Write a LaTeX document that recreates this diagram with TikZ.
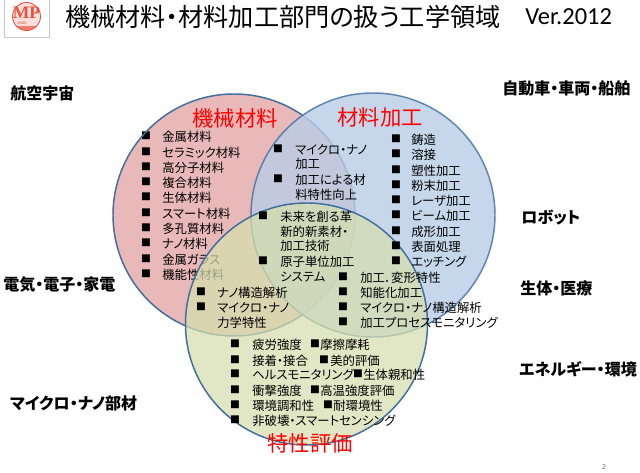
\documentclass[tikz,border=0pt]{standalone}
\usepackage{fontspec}
\setmainfont{Noto Sans CJK JP}[RawFeature=+palt]
\newfontfamily\latin{Carlito}
\definecolor{ringc}{HTML}{3F6E9F}
\definecolor{redf}{HTML}{E8B9B8}
\definecolor{bluef}{HTML}{B9CDE6}
\definecolor{greenf}{HTML}{D6DFAE}
\definecolor{logor}{HTML}{E8503A}
\tikzset{
  x=0.025cm,y=-0.025cm,
  ring/.style={draw=ringc,line width=1.05pt},
  itemtext/.style={anchor=west,inner sep=0pt,yshift=-0.4pt,font=\fontsize{8.8pt}{10pt}\selectfont,text=black},
  bul/.style={anchor=center,inner sep=0pt,font=\fontsize{7pt}{8pt}\selectfont,text=black},
  field/.style={anchor=west,inner sep=0pt,font=\fontsize{11.4pt}{13pt}\bfseries\selectfont},
  redtitle/.style={anchor=center,inner sep=0pt,text=red,font=\fontsize{15.2pt}{18pt}\selectfont},
}
\newcommand{\itm}[5]{%
  \node[bul] (b#1) at (#2,#4) {■};
  \node[itemtext] (t#1) at (#3,#4) {#5};}
\newcommand{\lin}[4]{\node[itemtext] (l#1) at (#2,#3) {#4};}
\begin{document}
\begin{tikzpicture}
\useasboundingbox (0,0) rectangle (640,473);
\fill[white] (0,0) rectangle (640,473);
% logo
\node[draw=black!22,line width=0.4pt,minimum width=32pt,minimum height=27pt,inner sep=0pt,anchor=north west] (logobox) at (4,-1) {};
\fill[logor!18] (26.5,16.5) circle (14);
\begin{scope}
\clip (26.5,16.5) circle (14);
\fill[logor!75] (10,26) rectangle (44,32);
\end{scope}
\draw[logor,line width=0.6pt] (26.5,16.5) circle (14);
\node[inner sep=0pt,text=logor,font=\fontsize{12.5pt}{13pt}\bfseries\selectfont] (logot) at (26.5,12.5) {\fontspec{Liberation Serif}MP};
\node[inner sep=0pt,text=logor,font=\fontsize{2.6pt}{3pt}\selectfont] (logos) at (22,23.6) {\fontspec{Liberation Sans}JSME};
% title
\node[anchor=west,inner sep=0pt,font=\fontsize{17.9pt}{21pt}\selectfont] (title) at (65,17) {機械材料・材料加工部門の扱う工学領域};
\node[anchor=west,inner sep=0pt,font=\fontsize{17.4pt}{20pt}\selectfont] (ver) at (525,17) {\latin Ver.2012};
% red
\fill[redf] (234,215) circle (121);
\itm{a1}{146}{162}{136}{金属材料}
\itm{a2}{146}{162}{152}{セラミック材料}
\itm{a3}{146}{162}{167}{高分子材料}
\itm{a4}{146}{162}{182}{複合材料}
\itm{a5}{146}{162}{197}{生体材料}
\itm{a6}{146}{162}{213}{スマート材料}
\itm{a7}{146}{162}{228}{多孔質材料}
\itm{a8}{146}{162}{243}{ナノ材料}
\itm{a9}{146}{162}{259}{金属ガラス}
\itm{a10}{146}{162}{274}{機能性材料}
\draw[ring] (234,215) circle (121);
% blue
\fill[bluef,fill opacity=0.8] (373,215) circle (122);
\draw[ring,draw opacity=0.8] (373,215) circle (122);
% green
\fill[greenf,fill opacity=0.72] (306.5,324) circle (121);
\draw[ring] (306.5,324) circle (121);
% red title
\node[redtitle] (rt1) at (235,118) {機械材料};
\node[redtitle] (rt2) at (380,117) {材料加工};
\node[redtitle] (rt3) at (310,443) {特性評価};
% overlap red-blue
\itm{c1}{278}{295}{149}{マイクロ・ナノ}
\lin{c1b}{295}{163}{加工}
\itm{c2}{278}{295}{179}{加工による材}
\lin{c2b}{295}{194}{料特性向上}
% centre
\itm{d1}{263}{280}{216}{未来を創る革}
\lin{d1b}{280}{231}{新的新素材・}
\lin{d1c}{280}{245}{加工技術}
\itm{d2}{263}{280}{261}{原子単位加工}
\lin{d2b}{280}{276}{システム}
% blue list
\itm{e1}{396}{411}{139}{鋳造}
\itm{e2}{396}{411}{154}{溶接}
\itm{e3}{396}{411}{170}{塑性加工}
\itm{e4}{396}{411}{185}{粉末加工}
\itm{e5}{396}{411}{200}{レーザ加工}
\itm{e6}{396}{411}{215}{ビーム加工}
\itm{e7}{396}{411}{231}{成形加工}
\itm{e8}{396}{411}{246}{表面処理}
\itm{e9}{396}{411}{261}{エッチング}
% blue-green
\itm{f1}{343}{360}{277}{加工．変形特性}
\itm{f2}{343}{360}{292}{知能化加工}
\itm{f3}{343}{360}{307}{マイクロ・ナノ構造解析}
\itm{f4}{343}{360}{322}{加工プロセスモニタリング}
% red-green
\itm{g1}{201}{217}{292}{ナノ構造解析}
\itm{g2}{201}{217}{307}{マイクロ・ナノ}
\lin{g2b}{217}{322}{力学特性}
% green
\itm{h1}{235}{252}{344}{疲労強度}
\itm{h1x}{315}{320}{344}{摩擦摩耗}
\itm{h2}{235}{252}{360}{接着・接合}
\itm{h2x}{324}{330}{360}{美的評価}
\itm{h3}{235}{252}{374}{ヘルスモニタリング}
\itm{h3x}{358}{363}{374}{生体親和性}
\itm{h4}{235}{252}{390}{衝撃強度}
\itm{h4x}{315}{320}{390}{高温強度評価}
\itm{h5}{235}{252}{405}{環境調和性}
\itm{h5x}{328}{333}{405}{耐環境性}
\itm{h6}{235}{252}{420}{非破壊・スマートセンシング}
% fields
\node[field] (k1) at (10,93) {航空宇宙};
\node[field] (k2) at (502,88) {自動車・車両・船舶};
\node[field] (k3) at (521,218) {ロボット};
\node[field] (k4) at (520,288) {生体・医療};
\node[field] (k5) at (3,285) {電気・電子・家電};
\node[field] (k6) at (519,369) {エネルギー・環境};
\node[field] (k7) at (10,403) {マイクロ・ナノ部材};
\node[anchor=center,inner sep=0pt,text=black!55,font=\fontsize{5.5pt}{6pt}\selectfont] (pg) at (604,467) {\latin 2};
\end{tikzpicture}
\end{document}
